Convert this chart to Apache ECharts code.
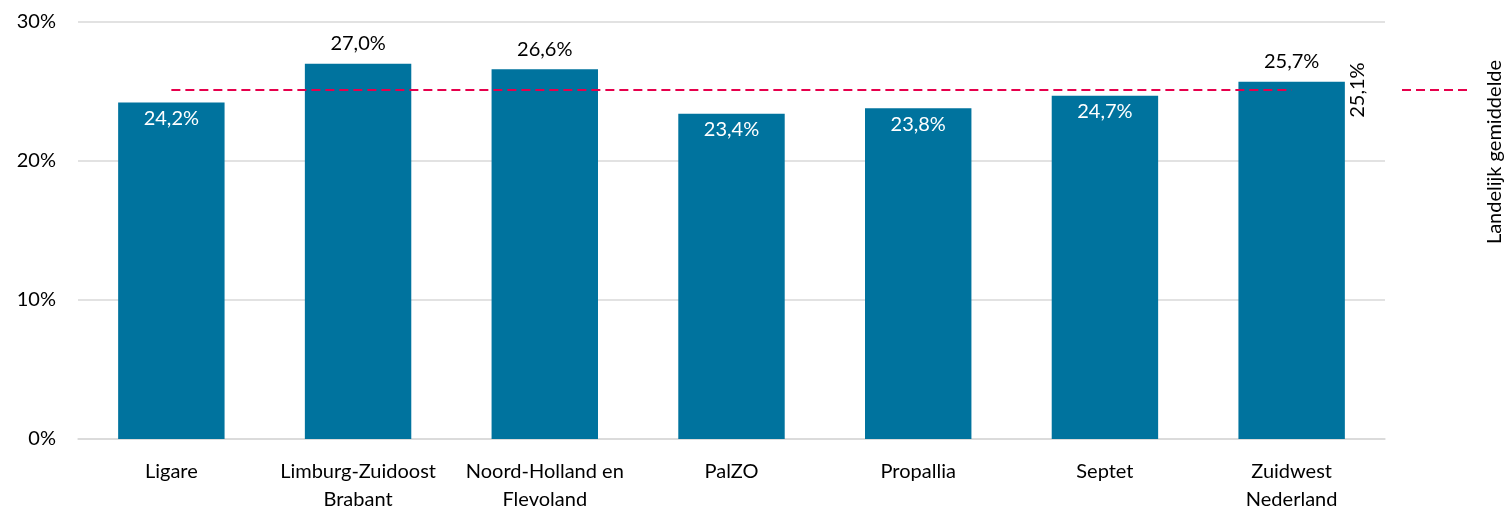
<!DOCTYPE html>
<html>
<head>
<meta charset="utf-8">
<script src="https://cdn.jsdelivr.net/npm/echarts@6/dist/echarts.min.js"></script>
<style>
  html, body { margin: 0; padding: 0; background: #fff; }
  #chart { width: 1510px; height: 511px; }
</style>
</head>
<body>
<div id="chart"></div>
<script>
// regio's
const categories = ['Ligare', 'Limburg-Zuidoost\nBrabant', 'Noord-Holland en\nFlevoland', 'PalZO', 'Propallia', 'Septet', 'Zuidwest\nNederland'];
// percentages per regio
const values = [24.2, 27.0, 26.6, 23.4, 23.8, 24.7, 25.7];
// landelijk gemiddelde
const average = 25.1;
const averageLine = categories.map(() => average);
const yTicks = [0, 10, 20, 30];

const fontFamily = 'Lato, "Open Sans", sans-serif';
const fmt = v => v.toFixed(1).replace('.', ',') + '%';

let chart = echarts.init(document.getElementById('chart'));
let option = {
  animation: false,
  textStyle: { fontFamily: fontFamily },
  grid: { left: 78, right: 125, top: 22, bottom: 72, outerBoundsMode: 'none' },
  xAxis: {
    type: 'category',
    data: categories,
    axisTick: { show: false },
    axisLine: { lineStyle: { color: '#d9d9d9', width: 1.5 } },
    axisLabel: { color: '#000', fontSize: 20, margin: 19, lineHeight: 28, interval: 0 }
  },
  yAxis: {
    type: 'value',
    min: yTicks[0],
    max: yTicks[yTicks.length - 1],
    interval: 10,
    axisLabel: { color: '#000', fontSize: 20, margin: 22, formatter: v => v + '%' },
    splitLine: { lineStyle: { color: '#d9d9d9', width: 1.5 } }
  },
  series: [
    {
      type: 'bar',
      barWidth: '57%',
      itemStyle: { color: '#00739e' },
      data: values.map(v => ({
        value: v,
        label: v > average
          ? { position: 'top', color: '#000', distance: 10 }
          : { position: 'insideTop', color: '#fff', distance: 6 }
      })),
      label: { show: true, fontSize: 20, formatter: p => fmt(p.value) },
      z: 2
    },
    {
      type: 'line',
      data: averageLine,
      symbol: 'none',
      lineStyle: { color: '#e6004c', width: 2, type: [9, 5] },
      endLabel: {
        show: true,
        rotate: 90,
        distance: 66,
        formatter: p => fmt(p.value),
        color: '#000',
        fontSize: 20,
        align: 'center',
        verticalAlign: 'middle'
      },
      labelLayout: { hideOverlap: false },
      z: 3
    }
  ],
  graphic: [
    {
      type: 'line',
      shape: { x1: 1402, y1: 90, x2: 1472, y2: 90 },
      style: { stroke: '#e6004c', lineWidth: 2, lineDash: [9, 5] }
    },
    {
      type: 'text',
      x: 1495,
      y: 152,
      rotation: Math.PI / 2,
      style: {
        text: 'Landelijk gemiddelde',
        fill: '#000',
        font: '20px ' + fontFamily,
        align: 'center',
        verticalAlign: 'middle'
      }
    }
  ]
};
chart.setOption(option);
</script>
</body>
</html>
